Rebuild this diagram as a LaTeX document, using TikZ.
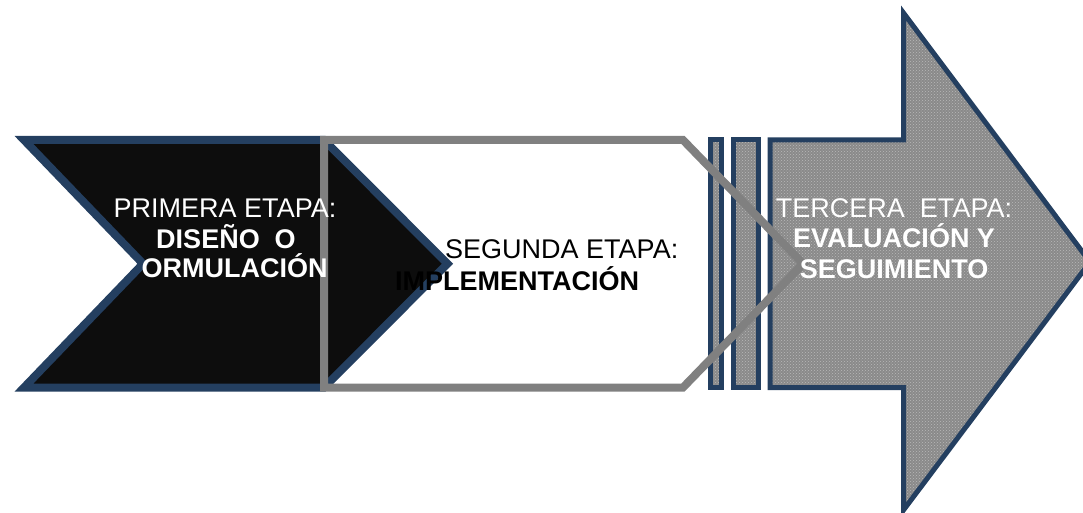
\documentclass[tikz,border=0pt]{standalone}
\usepackage{fontspec}
\setmainfont{Liberation Sans}
\usetikzlibrary{patterns}
\definecolor{navyline}{RGB}{36,63,96}
\definecolor{darkfill}{RGB}{13,13,13}
\definecolor{grayline}{RGB}{128,128,128}
\definecolor{patgray}{RGB}{138,138,138}
\definecolor{dotgray}{RGB}{185,185,185}
\begin{document}
\begin{tikzpicture}[x=1pt,y=-1pt,
  lbl/.style={font=\fontsize{27}{30}\selectfont, inner sep=0pt, anchor=base},
  wlbl/.style={lbl, text=white},
  blbl/.style={lbl, text=black, anchor=base west},
  stageone/.style={draw=navyline, line width=8pt, fill=darkfill, line join=miter},
  textured/.style={draw=navyline, line width=5pt, preaction={fill=patgray},
    pattern=crosshatch dots, pattern color=dotgray, line join=miter},
  stagetwo/.style={draw=grayline, line width=8pt, line join=miter}]
\useasboundingbox (0,0) rectangle (1083,513);
\clip (0,0) rectangle (1083,513);
% first stage: dark chevron
\draw[stageone] (24,140) -- (324,140) -- (447.5,263.75) -- (324,387.5)
  -- (24,387.5) -- (143,263.75) -- cycle;
% bars
\draw[textured] (710,140) rectangle (721.5,387.5);
\draw[textured] (733.5,140) rectangle (758,387.5);
% third stage: big arrow
\draw[textured] (770,140) -- (903.5,140) -- (903.5,13) -- (1090,262)
  -- (903.5,510) -- (903.5,387.5) -- (770,387.5) -- cycle;
% second stage: gray outline
\draw[stagetwo] (324,140) -- (683,140) -- (803,263.75) -- (683,387.5)
  -- (324,387.5) -- cycle;
% texts
\node[wlbl] (t1a) at (225,217) {PRIMERA ETAPA:};
\node[wlbl] (t1b) at (226,248) {\bfseries DISEÑO\ \ O};
\node[wlbl, anchor=base west] (t1c) at (141.5,277) {\bfseries ORMULACIÓN};
\node[blbl] (t2a) at (445,258) {SEGUNDA ETAPA:};
\node[blbl] (t2b) at (395,290) {\bfseries IMPLEMENTACIÓN};
\node[wlbl] (t3a) at (894,217) {TERCERA\ \ ETAPA:};
\node[wlbl] (t3b) at (894,247) {\bfseries EVALUACIÓN Y};
\node[wlbl] (t3c) at (894,278) {\bfseries SEGUIMIENTO};
\end{tikzpicture}
\end{document}
